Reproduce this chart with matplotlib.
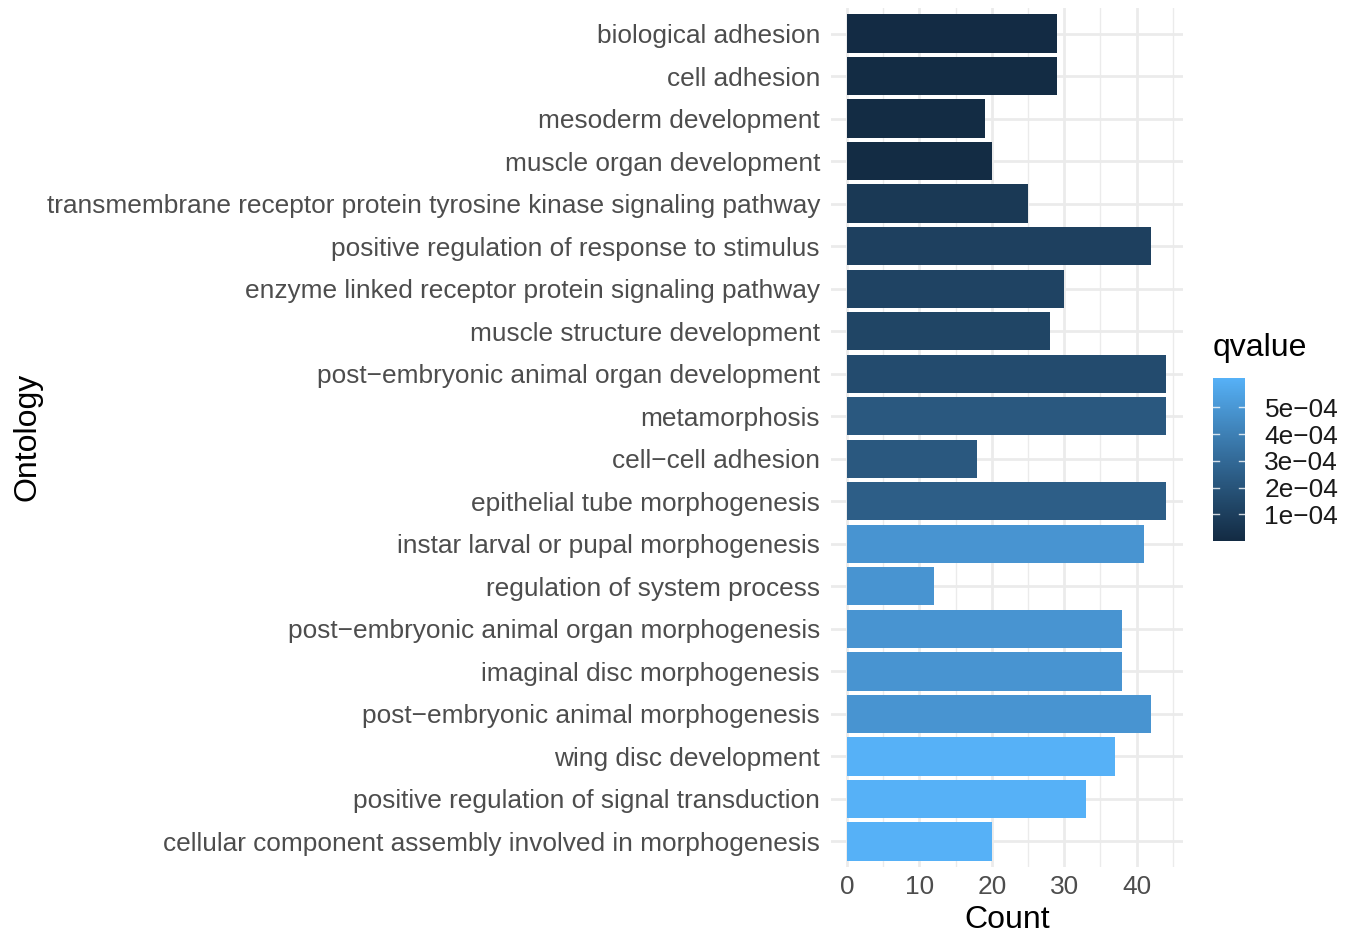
import numpy as np
import matplotlib.pyplot as plt
from matplotlib.colors import ListedColormap, Normalize
from matplotlib.colorbar import ColorbarBase

plt.rcParams['font.family'] = ['Liberation Sans', 'DejaVu Sans']

terms = [
    "biological adhesion",
    "cell adhesion",
    "mesoderm development",
    "muscle organ development",
    "transmembrane receptor protein tyrosine kinase signaling pathway",
    "positive regulation of response to stimulus",
    "enzyme linked receptor protein signaling pathway",
    "muscle structure development",
    "post\u2212embryonic animal organ development",
    "metamorphosis",
    "cell\u2212cell adhesion",
    "epithelial tube morphogenesis",
    "instar larval or pupal morphogenesis",
    "regulation of system process",
    "post\u2212embryonic animal organ morphogenesis",
    "imaginal disc morphogenesis",
    "post\u2212embryonic animal morphogenesis",
    "wing disc development",
    "positive regulation of signal transduction",
    "cellular component assembly involved in morphogenesis",
]
counts = [29, 29, 19, 20, 25, 42, 30, 28, 44, 44, 18, 44, 41, 12, 38, 38, 42, 37, 33, 20]
qvalues = [4e-6, 5e-6, 6e-6, 7e-6, 7.0e-5, 1.05e-4, 1.2e-4, 1.3e-4, 1.6e-4, 2.2e-4,
           2.2e-4, 2.5e-4, 4.9e-4, 4.9e-4, 4.9e-4, 4.9e-4, 4.9e-4, 6.1e-4, 6.1e-4, 6.1e-4]
q_ticks = [1e-4, 2e-4, 3e-4, 4e-4, 5e-4]
q_min, q_max = 0.0, 6.1e-4


# ggplot-style gradient: interpolate in CIE Lab between two colours
def srgb_to_lab(rgb):
    c = np.asarray(rgb, float)
    lin = np.where(c <= 0.04045, c / 12.92, ((c + 0.055) / 1.055) ** 2.4)
    m = np.array([[0.4124, 0.3576, 0.1805],
                  [0.2126, 0.7152, 0.0722],
                  [0.0193, 0.1192, 0.9505]])
    xyz = m @ lin / np.array([0.95047, 1.0, 1.08883])
    f = np.where(xyz > 0.008856, np.cbrt(xyz), 7.787 * xyz + 16 / 116)
    return np.array([116 * f[1] - 16, 500 * (f[0] - f[1]), 200 * (f[1] - f[2])])


def lab_to_srgb(lab):
    L, a, b = lab
    fy = (L + 16) / 116
    fx = fy + a / 500
    fz = fy - b / 200
    f = np.array([fx, fy, fz])
    xyz = np.where(f ** 3 > 0.008856, f ** 3, (f - 16 / 116) / 7.787)
    xyz = xyz * np.array([0.95047, 1.0, 1.08883])
    m = np.array([[3.2406, -1.5372, -0.4986],
                  [-0.9689, 1.8758, 0.0415],
                  [0.0557, -0.2040, 1.0570]])
    lin = np.clip(m @ xyz, 0, 1)
    c = np.where(lin <= 0.0031308, 12.92 * lin, 1.055 * lin ** (1 / 2.4) - 0.055)
    return np.clip(c, 0, 1)


def hex_rgb(h):
    return [int(h[i:i + 2], 16) / 255 for i in (1, 3, 5)]


lab_lo = srgb_to_lab(hex_rgb("#132B43"))
lab_hi = srgb_to_lab(hex_rgb("#56B1F7"))
steps = np.linspace(0, 1, 256)
cmap = ListedColormap([lab_to_srgb(lab_lo + t * (lab_hi - lab_lo)) for t in steps])
norm = Normalize(q_min, q_max)

fig = plt.figure(figsize=(13.46, 9.34), dpi=100)
ax = fig.add_axes([831 / 1346, 1 - 867 / 934, (1183 - 831) / 1346, (867 - 8) / 934])

y = np.arange(len(terms))[::-1] + 1
ax.barh(y, counts, height=0.9, color=cmap(norm(np.array(qvalues))), zorder=3)

ax.set_xlim(-2.2, 46.4)
ax.set_ylim(0.4, len(terms) + 0.6)
ax.set_yticks(y)
ax.set_yticklabels(terms)
ax.set_xticks([0, 10, 20, 30, 40])
ax.set_xticks([5, 15, 25, 35, 45], minor=True)
ax.grid(True, which='major', color='#EBEBEB', lw=2.0, zorder=0)
ax.grid(True, which='minor', axis='x', color='#EBEBEB', lw=1.0, zorder=0)
ax.tick_params(which='both', length=0, labelsize=18.9, labelcolor='#4D4D4D')
ax.tick_params(axis='y', pad=8)
ax.tick_params(axis='x', pad=6)
for s in ax.spines.values():
    s.set_visible(False)
ax.set_xlabel("Count", fontsize=23, labelpad=4)
fig.text(28 / 1346, 1 - 437 / 934, "Ontology", fontsize=23, rotation=90,
         ha='center', va='center')

# colour bar legend
cax = fig.add_axes([1213 / 1346, 1 - 541 / 934, 32 / 1346, (541 - 378) / 934])
cb = ColorbarBase(cax, cmap=cmap, norm=norm, ticks=q_ticks)
cb.outline.set_visible(False)
cb.set_ticklabels(["1e\u221204", "2e\u221204", "3e\u221204", "4e\u221204", "5e\u221204"])
cax.tick_params(length=0, labelsize=18.9, labelcolor='#1A1A1A', pad=14)
for t in q_ticks:
    cax.plot([0, 0.2], [t, t], color='white', lw=1, alpha=0.8)
    cax.plot([0.8, 1], [t, t], color='white', lw=1, alpha=0.8)
cax.set_xlim(0, 1)
fig.text(1213 / 1346, 1 - 348 / 934, "qvalue", fontsize=23, va='center', ha='left')

fig.savefig("out.png", dpi=100)
